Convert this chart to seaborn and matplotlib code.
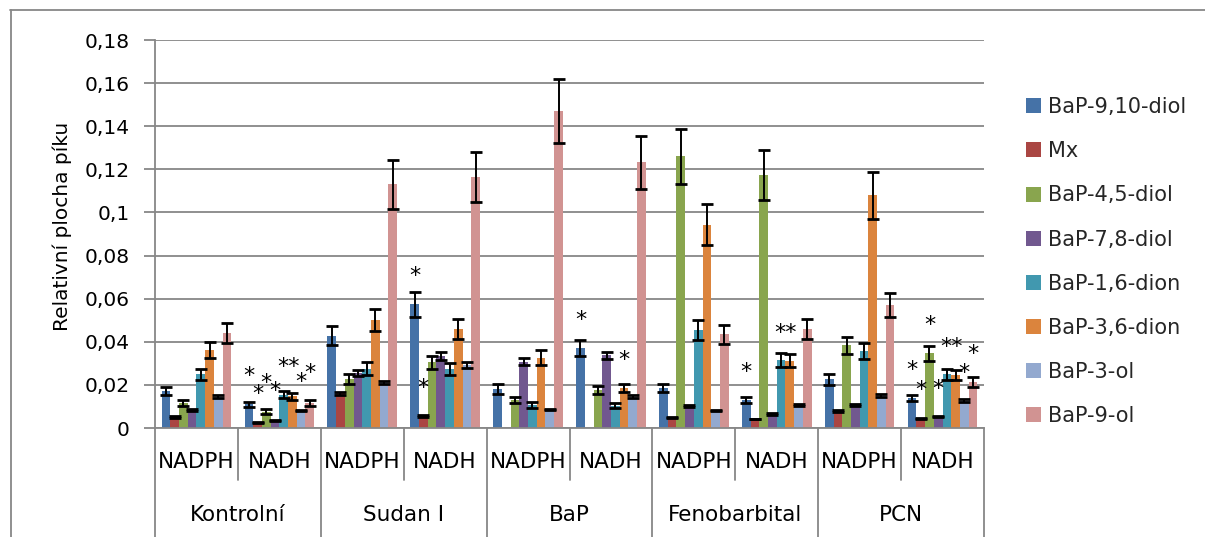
import numpy as np
import pandas as pd
import matplotlib
matplotlib.use("Agg")
import matplotlib.pyplot as plt
from matplotlib.patches import Patch
from matplotlib.lines import Line2D
from matplotlib.ticker import FuncFormatter, MultipleLocator
import seaborn as sns

# ---- data -------------------------------------------------------------
groups = ["Kontrolní", "Sudan I", "BaP", "Fenobarbital", "PCN"]
cofactors = ["NADPH", "NADH"]
compounds = ["BaP-9,10-diol", "Mx", "BaP-4,5-diol", "BaP-7,8-diol",
             "BaP-1,6-dion", "BaP-3,6-dion", "BaP-3-ol", "BaP-9-ol"]
colors = ["#4572A7", "#AA4643", "#89A54E", "#71588F",
          "#4198AF", "#DB843D", "#93A9CF", "#D19392"]

# mean relative peak area, order: Kontrolní NADPH, NADH, Sudan I NADPH, NADH, ...
diol_9_10 = [0.0170, 0.0110, 0.0427, 0.0575, 0.0181, 0.0370, 0.0186, 0.0130, 0.0226, 0.0138]
mx        = [0.0051, 0.0027, 0.0161, 0.0056, 0.0,    0.0,    0.0049, 0.0042, 0.0079, 0.0045]
diol_4_5  = [0.0116, 0.0076, 0.0227, 0.0305, 0.0130, 0.0177, 0.1260, 0.1174, 0.0384, 0.0347]
diol_7_8  = [0.0085, 0.0036, 0.0254, 0.0334, 0.0308, 0.0338, 0.0102, 0.0065, 0.0106, 0.0053]
dion_1_6  = [0.0250, 0.0155, 0.0275, 0.0272, 0.0107, 0.0104, 0.0455, 0.0316, 0.0359, 0.0250]
dion_3_6  = [0.0360, 0.0147, 0.0501, 0.0458, 0.0327, 0.0184, 0.0944, 0.0312, 0.1079, 0.0245]
ol_3      = [0.0144, 0.0082, 0.0213, 0.0292, 0.0087, 0.0146, 0.0080, 0.0106, 0.0153, 0.0127]
ol_9      = [0.0442, 0.0118, 0.1130, 0.1163, 0.1471, 0.1232, 0.0436, 0.0460, 0.0570, 0.0212]

# standard deviations
sd_9_10 = [0.0018, 0.0012, 0.0044, 0.0058, 0.0022, 0.0037, 0.0019, 0.0015, 0.0025, 0.0014]
sd_mx   = [0.0003, 0.0002, 0.0008, 0.0003, 0.0,    0.0,    0.0003, 0.0002, 0.0004, 0.0003]
sd_4_5  = [0.0012, 0.0011, 0.0025, 0.0029, 0.0014, 0.0018, 0.0128, 0.0117, 0.0039, 0.0035]
sd_7_8  = [0.0004, 0.0003, 0.0014, 0.0017, 0.0015, 0.0016, 0.0004, 0.0003, 0.0004, 0.0003]
sd_1_6  = [0.0026, 0.0016, 0.0029, 0.0028, 0.0012, 0.0012, 0.0046, 0.0032, 0.0037, 0.0025]
sd_3_6  = [0.0037, 0.0015, 0.0052, 0.0046, 0.0033, 0.0019, 0.0095, 0.0031, 0.0109, 0.0023]
sd_3ol  = [0.0007, 0.0003, 0.0007, 0.0015, 0.0003, 0.0008, 0.0003, 0.0004, 0.0007, 0.0006]
sd_9ol  = [0.0046, 0.0014, 0.0114, 0.0116, 0.0147, 0.0122, 0.0044, 0.0046, 0.0057, 0.0023]

values = [diol_9_10, mx, diol_4_5, diol_7_8, dion_1_6, dion_3_6, ol_3, ol_9]
errors = [sd_9_10, sd_mx, sd_4_5, sd_7_8, sd_1_6, sd_3_6, sd_3ol, sd_9ol]

# significance marks: (sample index, compound index, height)
stars = [(1, 0, 0.0260), (1, 1, 0.0179), (1, 2, 0.0230), (1, 3, 0.0194),
         (1, 4, 0.0304), (1, 5, 0.0304), (1, 6, 0.0234), (1, 7, 0.0274),
         (3, 0, 0.0725), (3, 1, 0.0204),
         (5, 0, 0.0520), (5, 5, 0.0336),
         (7, 0, 0.0280), (7, 4, 0.0460), (7, 5, 0.0460),
         (9, 0, 0.0288), (9, 1, 0.0195), (9, 2, 0.0497), (9, 3, 0.0203),
         (9, 4, 0.0396), (9, 5, 0.0396), (9, 6, 0.0275), (9, 7, 0.0362)]

# ---- long table -------------------------------------------------------
samples = [f"{g}|{c}" for g in groups for c in cofactors]
rows = []
for comp, vals in zip(compounds, values):
    for s, v in zip(samples, vals):
        rows.append({"sample": s, "compound": comp, "value": v})
df = pd.DataFrame(rows)

# ---- figure -----------------------------------------------------------
sns.set_theme(style="white")
plt.rcParams["font.family"] = ["DejaVu Sans"]
GRAY = "#878787"

W, H = 1205, 537
fig = plt.figure(figsize=(W / 100, H / 100), dpi=100)
ax_l, ax_r, ax_t, ax_b = 155, 984, 40, 428
ax = fig.add_axes([ax_l / W, 1 - ax_b / H, (ax_r - ax_l) / W, (ax_b - ax_t) / H])

sns.barplot(data=df, x="sample", y="value", hue="compound",
            order=samples, hue_order=compounds, palette=colors,
            width=0.84, saturation=1, errorbar=None, legend=False,
            linewidth=0, ax=ax)

bar_containers = list(ax.containers)
bar_x = [[p.get_x() + p.get_width() / 2 for p in cont.patches]
         for cont in bar_containers]

# error bars on top of each bar
for cont, errs in zip(bar_containers, errors):
    for patch, e in zip(cont.patches, errs):
        h = patch.get_height()
        if h <= 0:
            continue
        xc = patch.get_x() + patch.get_width() / 2
        ax.errorbar(xc, h, yerr=e, fmt="none", ecolor="black",
                    elinewidth=1.4, capsize=4.2, capthick=2.0, zorder=5)

# asterisks; neighbouring marks at the same height are written as one "**"
marks = []
for si, ci, yv in stars:
    if marks and marks[-1][0] == si and marks[-1][2] == yv and marks[-1][1][-1] == ci - 1:
        marks[-1][1].append(ci)
    else:
        marks.append((si, [ci], yv))
for si, cis, yv in marks:
    xc = np.mean([bar_x[c][si] for c in cis])
    ax.annotate("*" * len(cis), xy=(xc, yv), xytext=(0, -7.5),
                textcoords="offset points", ha="center", va="baseline",
                fontsize=16, color="black", zorder=6)

# axes styling
ax.set_xlim(-0.5, len(samples) - 0.5)
ax.set_ylim(0, 0.18)
ax.yaxis.set_major_locator(MultipleLocator(0.02))


def comma_fmt(v, pos):
    if abs(v) < 1e-9:
        return "0"
    return f"{v:.2f}".rstrip("0").replace(".", ",")


ax.yaxis.set_major_formatter(FuncFormatter(comma_fmt))
ax.yaxis.grid(True, color=GRAY, linewidth=1.3)
ax.set_axisbelow(True)
for side in ["top", "right"]:
    ax.spines[side].set_visible(False)
for side in ["left", "bottom"]:
    ax.spines[side].set_color(GRAY)
    ax.spines[side].set_linewidth(1.3)
ax.tick_params(axis="y", left=True, length=8, width=1.3, color=GRAY,
               labelsize=14.5, labelcolor="black", pad=10)
ax.set_xticks([])
ax.set_xlabel("")
ax.set_ylabel("")

# two-level category axis
axh = ax_b - ax_t
y_sub = -(462 - ax_b) / axh
y_grp = -(515 - ax_b) / axh
y_sub_sep = -(480 - ax_b) / axh
y_grp_sep = -(H - ax_b) / axh
trans = ax.get_xaxis_transform()
for i, s in enumerate(samples):
    ax.text(i, y_sub, s.split("|")[1], transform=trans, ha="center",
            va="center", fontsize=15.5, color="black")
for gi, g in enumerate(groups):
    ax.text(2 * gi + 0.5, y_grp, g, transform=trans, ha="center",
            va="center", fontsize=15.5, color="black")
for k in range(len(samples) + 1):
    xb = k - 0.5
    ybot = y_grp_sep if k % 2 == 0 else y_sub_sep
    ax.plot([xb, xb], [0, ybot], transform=trans, color=GRAY,
            linewidth=1.3, clip_on=False)

# y label
fig.text(62 / W, 1 - 226 / H, "Relativní plocha píku", rotation=90,
         ha="center", va="center", fontsize=14.5, color="black")

# legend
handles = [Patch(facecolor=c, edgecolor="none", label=n)
           for c, n in zip(colors, compounds)]
fig.legend(handles=handles, loc="upper left",
           bbox_to_anchor=(1026 / W, 1 - 97 / H), frameon=False,
           fontsize=15, handlelength=0.74, handleheight=0.74,
           handletextpad=0.34, labelspacing=1.16, borderpad=0,
           borderaxespad=0)

# chart frame
fig.add_artist(Line2D([10.5 / W, 10.5 / W], [1 - 10 / H, 0], color=GRAY,
                      linewidth=1.3, transform=fig.transFigure))
fig.add_artist(Line2D([10 / W, 1], [1 - 10 / H, 1 - 10 / H], color=GRAY,
                      linewidth=1.3, transform=fig.transFigure))

fig.savefig("out.png", dpi=100)
